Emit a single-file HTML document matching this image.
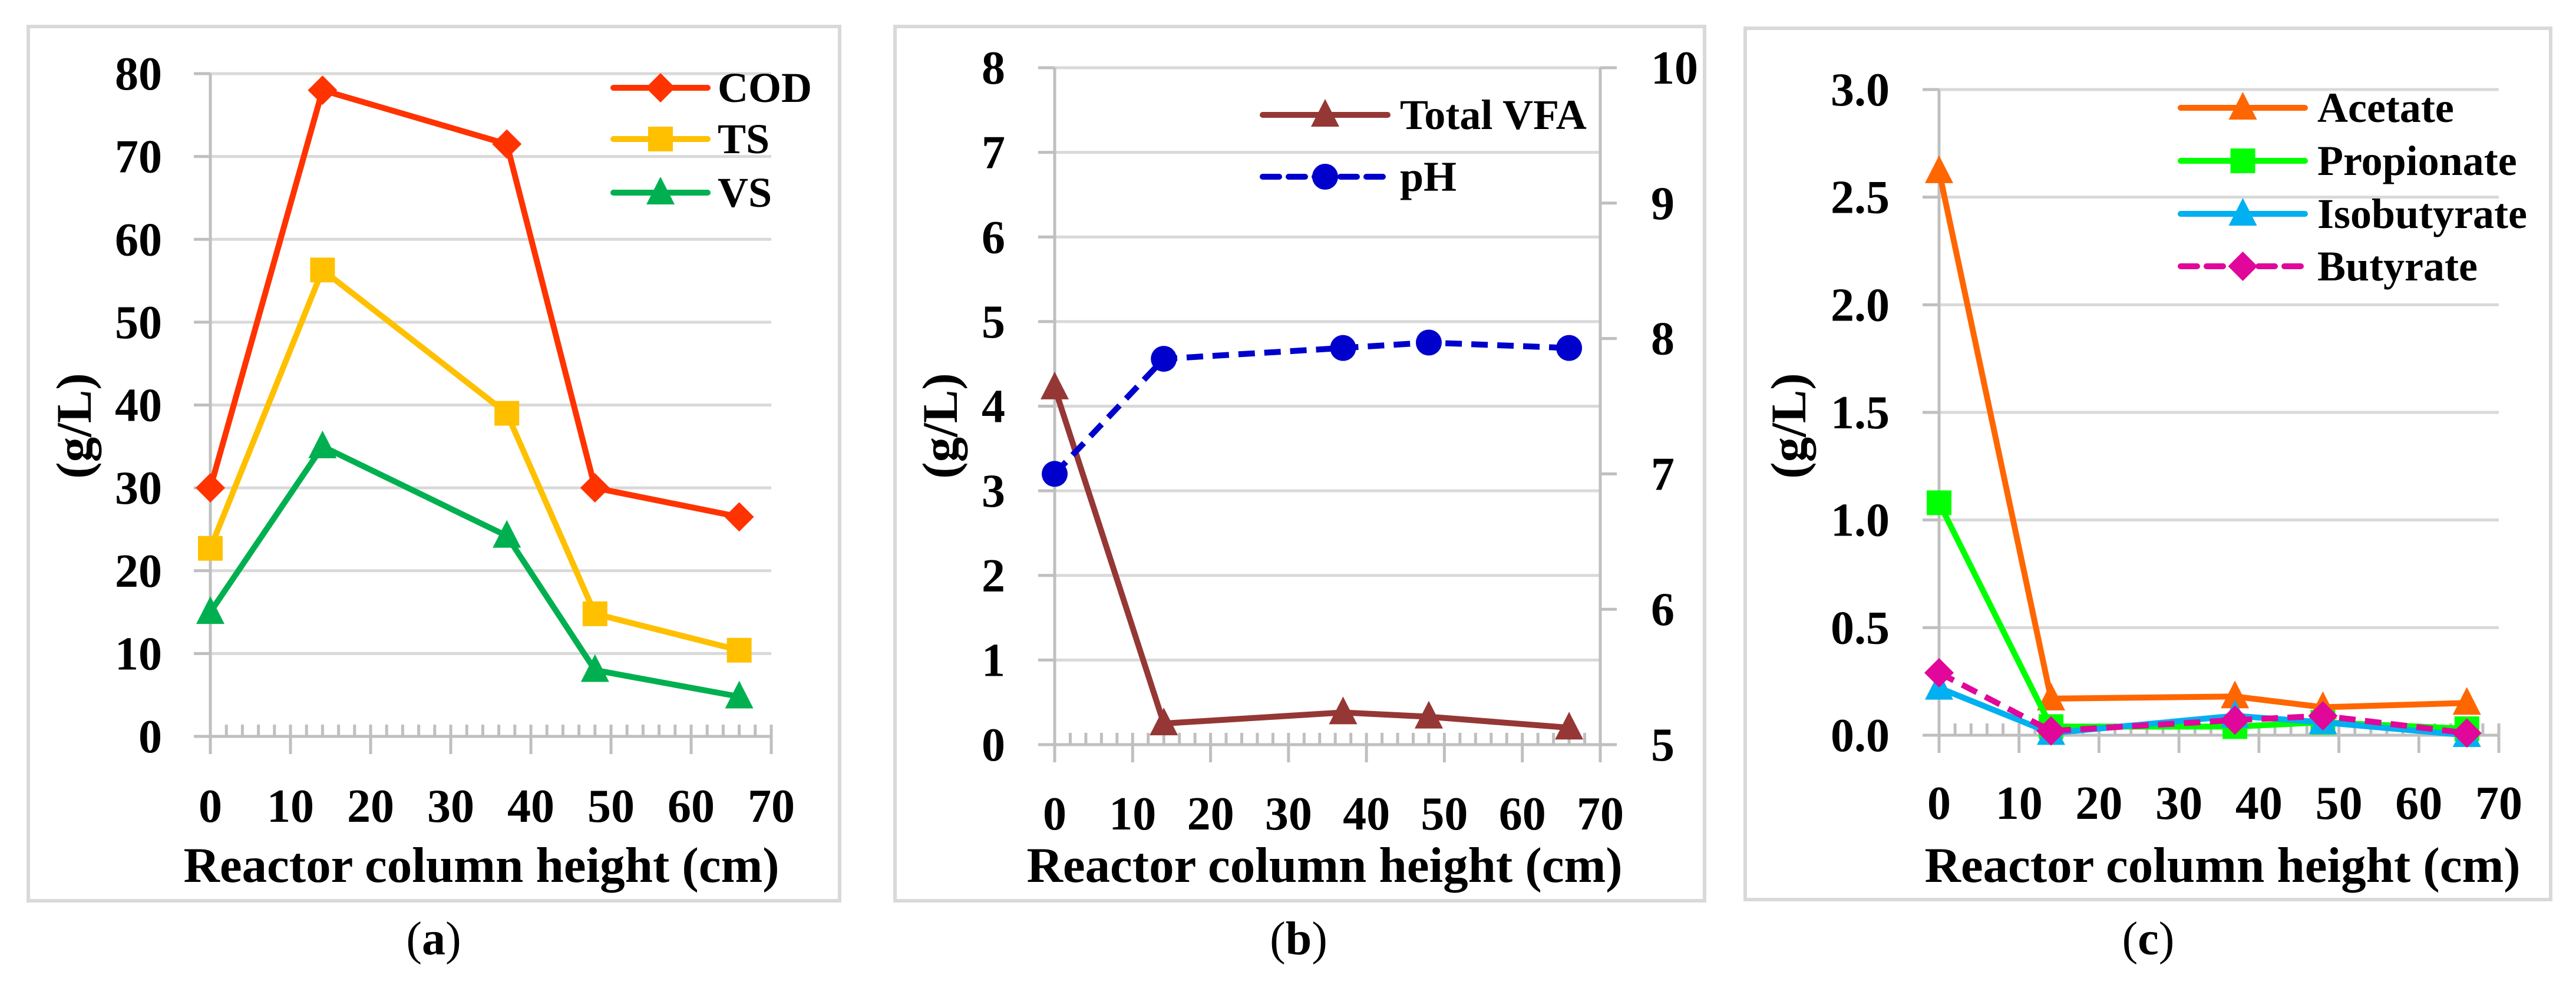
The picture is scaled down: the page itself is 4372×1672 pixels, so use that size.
<!DOCTYPE html>
<html><head><meta charset="utf-8"><style>
html,body{margin:0;padding:0;background:#fff;}
svg{display:block;font-family:"Liberation Serif",serif;font-weight:bold;}
</style></head><body>
<svg id="fig" width="4372" height="1672" viewBox="0 0 4372 1672" xmlns="http://www.w3.org/2000/svg"></svg>
<script>
const xCats = [0, 14, 37, 48, 66];
const xTicks = [0, 10, 20, 30, 40, 50, 60, 70];
// Panel a
const codVals = [30, 78, 71.5, 30, 26.5];
const tsVals = [22.7, 56.3, 39, 14.8, 10.4];
const vsVals = [15, 35, 24.2, 8, 4.8];
const aTicks = ["0","10","20","30","40","50","60","70","80"];
// Panel b
const vfaVals = [4.22, 0.25, 0.38, 0.33, 0.2];
const phVals = [7.0, 7.85, 7.93, 7.97, 7.93];
const bTicks = ["0","1","2","3","4","5","6","7","8"];
const bRightTicks = ["5","6","7","8","9","10"];
// Panel c
const acetateVals = [2.62, 0.17, 0.18, 0.13, 0.15];
const propionateVals = [1.08, 0.04, 0.04, 0.06, 0.03];
const isobutyrateVals = [0.22, 0.01, 0.09, 0.06, 0.0];
const butyrateVals = [0.29, 0.02, 0.07, 0.09, 0.01];
const cTicks = ["0.0","0.5","1.0","1.5","2.0","2.5","3.0"];

const NS = "http://www.w3.org/2000/svg";
const svg = document.getElementById("fig");
function mk(tag, attrs, parent) {
  const e = document.createElementNS(NS, tag);
  for (const k in attrs) e.setAttribute(k, attrs[k]);
  (parent || svg).appendChild(e);
  return e;
}
function marker(g, shape, cx, cy, color) {
  let m;
  if (shape === "diamond") {
    const r = 25;
    m = mk("polygon", {points: `${cx},${cy-r} ${cx+r},${cy} ${cx},${cy+r} ${cx-r},${cy}`, fill: color}, g);
  } else if (shape === "square") {
    const r = 21;
    m = mk("rect", {x: cx-r, y: cy-r, width: 2*r, height: 2*r, fill: color}, g);
  } else if (shape === "triangle") {
    const r = 24;
    m = mk("polygon", {points: `${cx},${cy-r-3} ${cx+r},${cy+r-4} ${cx-r},${cy+r-4}`, fill: color}, g);
  } else {
    m = mk("circle", {cx: cx, cy: cy, r: 22, fill: color}, g);
  }
  return m;
}

function panel(p) {
  const g = mk("g", {});
  
  
  const fr = mk("rect", {x: p.frame[0], y: p.frame[1], width: p.frame[2]-p.frame[0], height: p.frame[3]-p.frame[1], fill: "#fff", stroke: "#d9d9d9", "stroke-width": 6}, g);
  
  
  const X = v => p.x0 + (v - 0) / 70 * (p.x1 - p.x0);
  const Y = v => p.y0 - (v - p.ymin) / (p.ymax - p.ymin) * (p.y0 - p.y1);
  // gridlines + y ticks
  const n = p.yTicks.length;
  for (let i = 0; i < n; i++) {
    const v = p.ymin + i * (p.ymax - p.ymin) / (n - 1);
    const y = Y(v);
    if (i > 0) {
      const gl = mk("line", {x1: p.x0, x2: p.x1, y1: y, y2: y, stroke: "#d9d9d9", "stroke-width": 5}, g);
      
      
    }
    mk("line", {x1: p.x0 - 28, x2: p.x0, y1: y, y2: y, stroke: "#bfbfbf", "stroke-width": 5}, g);
    const t = mk("text", {x: p.labelRight, y: y + 27, "text-anchor": "end", "font-size": 80, fill: "#000"}, g);
    t.textContent = p.yTicks[i];
    
    
  }
  // right axis
  if (p.rTicks) {
    mk("line", {x1: p.x1, x2: p.x1, y1: p.y1, y2: p.y0, stroke: "#bfbfbf", "stroke-width": 5}, g);
    const m = p.rTicks.length;
    for (let i = 0; i < m; i++) {
      const y = p.y0 - i / (m - 1) * (p.y0 - p.y1);
      mk("line", {x1: p.x1, x2: p.x1 + 28, y1: y, y2: y, stroke: "#bfbfbf", "stroke-width": 5}, g);
      const t = mk("text", {x: p.x1 + 86, y: y + 27, "text-anchor": "start", "font-size": 80, fill: "#000"}, g);
      t.textContent = p.rTicks[i];
      
      
    }
  }
  // y axis
  const ya = mk("line", {x1: p.x0, x2: p.x0, y1: p.y1, y2: p.y0 + 30, stroke: "#bfbfbf", "stroke-width": 5}, g);
  
  
  // x axis
  const xa = mk("line", {x1: p.x0 - 28, x2: p.x1, y1: p.y0, y2: p.y0, stroke: "#bfbfbf", "stroke-width": 5}, g);
  
  
  for (let v = 2; v < 70; v += 2) {
    if (v % 10 === 0) continue;
    mk("line", {x1: X(v), x2: X(v), y1: p.y0 - 20, y2: p.y0, stroke: "#bfbfbf", "stroke-width": 5}, g);
  }
  xTicks.forEach(v => {
    mk("line", {x1: X(v), x2: X(v), y1: p.y0 - 20, y2: p.y0 + 30, stroke: "#bfbfbf", "stroke-width": 5}, g);
    const t = mk("text", {x: X(v), y: p.xLabelY, "text-anchor": "middle", "font-size": 80, fill: "#000"}, g);
    t.textContent = String(v);
    
    
  });
  // titles
  const xt = mk("text", {x: p.xTitleX, y: 1497, "text-anchor": "middle", "font-size": 85, fill: "#000"}, g);
  xt.textContent = "Reactor column height (cm)";
  
  
  const yt = mk("text", {x: 0, y: 0, "text-anchor": "middle", "font-size": 85, fill: "#000", transform: `translate(${p.yTitleX + 28},723) rotate(-90)`}, g);
  yt.textContent = "(g/L)";
  
  
  const cap = mk("text", {x: p.capX, y: 1620, "text-anchor": "middle", "font-size": 80, "font-weight": "normal", fill: "#000"}, g);
  cap.innerHTML = '(<tspan font-weight="bold">' + p.cap + '</tspan>)';
  
  
  // series
  p.series.forEach((s, si) => {
    const sg = mk("g", {}, g);
    
    
    const Ys = s.right ? (v => p.y0 - (v - p.rmin) / (p.rmax - p.rmin) * (p.y0 - p.y1)) : Y;
    const pts = xCats.map((x, i) => X(x) + "," + Ys(s.vals[i])).join(" ");
    const pl = mk("polyline", {points: pts, fill: "none", stroke: s.color, "stroke-width": 10, "stroke-linejoin": "round", "stroke-dasharray": s.dash ? "28,16" : "none"}, sg);
    
    
    xCats.forEach((x, i) => {
      const m = marker(sg, s.shape, X(x), Ys(s.vals[i]), s.color);
      
      
    });
    // legend
    const ly = p.legend.rows[si];
    const lg = mk("g", {}, g);
    
    
    mk("line", {x1: p.legend.x1, x2: p.legend.x2, y1: ly, y2: ly, stroke: s.color, "stroke-width": 10, "stroke-linecap": "round", "stroke-dasharray": s.dash ? "28,16" : "none"}, lg);
    marker(lg, s.shape, (p.legend.x1 + p.legend.x2) / 2, ly, s.color);
    const lt = mk("text", {x: p.legend.tx, y: ly + 24, "font-size": 72, fill: "#000"}, lg);
    lt.textContent = s.label;
  });
}

panel({name: "panel-a", frame: [48, 45, 1425, 1529], x0: 357, x1: 1309, y0: 1250, y1: 125, ymin: 0, ymax: 80,
  yTicks: aTicks, labelRight: 275, xLabelY: 1395, xTitleX: 817, yTitleX: 126, capX: 736, cap: "a",
  legend: {x1: 1041, x2: 1201, tx: 1218, rows: [149, 236, 327]},
  series: [
    {name: "cod", label: "COD", vals: codVals, color: "#ff3300", shape: "diamond"},
    {name: "ts", label: "TS", vals: tsVals, color: "#ffc000", shape: "square"},
    {name: "vs", label: "VS", vals: vsVals, color: "#00b050", shape: "triangle"}
  ]});

panel({name: "panel-b", frame: [1519, 45, 2893, 1529], x0: 1790, x1: 2716, y0: 1264, y1: 115, ymin: 0, ymax: 8,
  rmin: 5, rmax: 10, rTicks: bRightTicks,
  yTicks: bTicks, labelRight: 1706, xLabelY: 1408, xTitleX: 2248, yTitleX: 1596, capX: 2204, cap: "b",
  legend: {x1: 2143, x2: 2355, tx: 2376, rows: [195, 300]},
  series: [
    {name: "total-vfa", label: "Total VFA", vals: vfaVals, color: "#953735", shape: "triangle"},
    {name: "ph", label: "pH", vals: phVals, color: "#0000cc", shape: "circle", dash: true, right: true}
  ]});

panel({name: "panel-c", frame: [2962, 48, 4329, 1527], x0: 3291, x1: 4241, y0: 1248, y1: 152, ymin: 0, ymax: 3,
  yTicks: cTicks, labelRight: 3207, xLabelY: 1390, xTitleX: 3772, yTitleX: 3036, capX: 3646, cap: "c",
  legend: {x1: 3701, x2: 3912, tx: 3933, rows: [183, 273, 363, 452]},
  series: [
    {name: "acetate", label: "Acetate", vals: acetateVals, color: "#ff6600", shape: "triangle"},
    {name: "propionate", label: "Propionate", vals: propionateVals, color: "#00ff00", shape: "square"},
    {name: "isobutyrate", label: "Isobutyrate", vals: isobutyrateVals, color: "#00b0f0", shape: "triangle"},
    {name: "butyrate", label: "Butyrate", vals: butyrateVals, color: "#e0079a", shape: "diamond", dash: true}
  ]});
</script>
</body></html>
